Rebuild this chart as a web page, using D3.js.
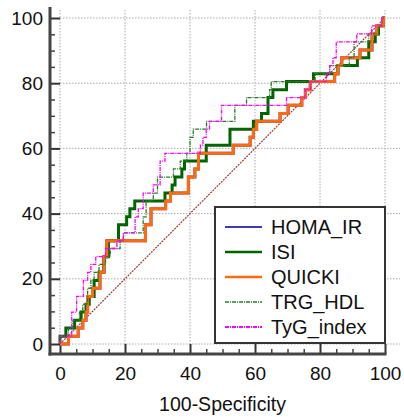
<!DOCTYPE html>
<html>
<head>
<meta charset="utf-8">
<script src="https://cdn.jsdelivr.net/npm/d3@7"></script>
<style>
  body { margin: 0; background: #fff; }
  svg { font-family: "Liberation Sans", Arial, sans-serif; }
</style>
</head>
<body>
<div id="plot"></div>
<script>
// ROC curves, [100-specificity, sensitivity] at every step (jump at x to y)
var seriesNames = ["HOMA_IR", "ISI", "QUICKI", "TRG_HDL", "TyG_index"];

var isi = [[0,0],[0,2.4],[1.8,4.9],[4.5,7.3],[6.5,9.8],[8,12.2],[9,14.6],[10.5,19.5],[12,22],[13.5,26.8],
  [14.9,31.7],[18,36.6],[20.5,39],[21.5,41.5],[23,43.9],[32.3,46.3],[34.5,48.8],
  [35.4,51.2],[37.5,53.7],[38.3,56.1],[45,61],[52.3,65.9],[59.5,68.3],[62,70.7],[64,75.6],[65.5,78],
  [69.7,80.5],[78,82.9],[85.5,85.4],[91.5,87.8],[95,92.7],[97,95.1],[98,97.6],[99.5,100],[100,100]];

var quicki = [[0,0],[2.6,2.4],[5.6,4.9],[7,7.3],[8,9.8],[8.5,14.6],[10,17.1],[12.3,22],[13.5,26.8],
  [14.4,31.7],[26.3,36.6],[28,41.5],[32.5,43.9],[34,46.3],[39.5,51.2],[41.5,53.7],[42.6,58.5],
  [53.3,61],[58.5,63.4],[59.5,65.9],[60.5,68.3],[67.7,70.7],[70.2,73.2],[74.4,75.6],[75.5,78],
  [77,80.5],[84.5,82.9],[85.5,85.4],[86.7,87.8],[92.3,90.2],[96,95.1],[97.5,97.6],[99.5,100],[100,100]];

// HOMA_IR gives the same ranking as QUICKI, so it sits under the orange line
var homaIR = quicki;

var trgHdl = [[0,0],[0,2.4],[2.6,4.9],[4,7.3],[6,9.8],[7,12.2],[8.5,17.1],[9.5,19.5],[10.5,22],
  [12,24.4],[14,26.8],[15.5,29.3],[18.5,31.7],[19.5,34.1],[25.6,39],[26.5,43.9],[28.7,46.3],
  [30,51.2],[34.9,53.7],[37,56.1],[39,58.5],[40,63.4],[41,65.9],[45.1,68.3],[53.8,73.2],
  [57.4,75.6],[64.5,78],[65,80.5],[78.5,82.9],[83,85.4],[89,87.8],[90.5,92.7],[95,95.1],
  [98,97.6],[99,100],[100,100]];

var tygIndex = [[0,0],[0,2.4],[3.6,9.8],[5.1,14.6],[7.2,19.5],[8.5,22],[9.5,24.4],[11,26.8],
  [14,29.3],[17.5,31.7],[19.5,34.1],[23.1,39],[24.1,41.5],[25.6,46.3],[28.7,48.8],[30.8,56.1],
  [32.3,58.5],[43.2,61],[44,63.4],[45,65.9],[46,68.3],[49.7,73.2],[69.7,75.6],[75.4,78],
  [77,80.5],[82,82.9],[83,85.4],[84,87.8],[85,92.7],[91.3,95.1],[95.9,97.6],[99,100],[100,100]];

var tickVals = [0, 20, 40, 60, 80, 100];
var minorVals = [5, 10, 15, 25, 30, 35, 45, 50, 55, 65, 70, 75, 85, 90, 95];

var styles = [
  { data: homaIR,   color: "#3b3bb3", width: 3,   dash: null,      lw: 2 },
  { data: isi,      color: "#006400", width: 3,   dash: null,      lw: 2.5 },
  { data: quicki,   color: "#ff6a10", width: 3,   dash: null,      lw: 2.5 },
  { data: trgHdl,   color: "#2b7a2b", width: 1.3, dash: "4,1,1,1", lw: 1.5 },
  { data: tygIndex, color: "#ff00ff", width: 1.3, dash: "4,1,1,1", lw: 1.8 }
];

var W = 404, H = 417;
var x = d3.scaleLinear().domain([0, 100]).range([60, 385]);
var y = d3.scaleLinear().domain([0, 100]).range([344, 18]);

var svg = d3.select("#plot").append("svg")
  .attr("width", W).attr("height", H);

// grid
svg.append("g").selectAll("line.h").data(tickVals).enter().append("line")
  .attr("x1", x(0)).attr("x2", 400)
  .attr("y1", function(d) { return y(d); }).attr("y2", function(d) { return y(d); })
  .attr("stroke", "#aaa").attr("stroke-width", 1).attr("stroke-dasharray", "1.5,1.5");
svg.append("g").selectAll("line.v").data(tickVals).enter().append("line")
  .attr("y1", 10).attr("y2", y(0))
  .attr("x1", function(d) { return x(d); }).attr("x2", function(d) { return x(d); })
  .attr("stroke", "#aaa").attr("stroke-width", 1).attr("stroke-dasharray", "1.5,1.5");

// axes
var yAxis = d3.axisLeft(y).tickValues(tickVals).tickSize(-10).tickPadding(7);
var xAxis = d3.axisBottom(x).tickValues(tickVals).tickSize(-10).tickPadding(13);

var gy = svg.append("g").attr("transform", "translate(50,0)").call(yAxis);
var gx = svg.append("g").attr("transform", "translate(0,354)").call(xAxis);
[gy, gx].forEach(function(g) {
  g.select(".domain").remove();
  g.selectAll(".tick line").attr("stroke", "#333").attr("stroke-width", 2);
  g.selectAll(".tick text").attr("fill", "#111").style("font-size", "19px");
});

svg.append("g").attr("transform", "translate(50,0)")
  .call(d3.axisLeft(y).tickValues(minorVals).tickSize(-5).tickFormat(""))
  .call(function(g) { g.select(".domain").remove(); })
  .selectAll("line").attr("stroke", "#444").attr("stroke-width", 1.5);
svg.append("g").attr("transform", "translate(0,354)")
  .call(d3.axisBottom(x).tickValues(minorVals).tickSize(-5).tickFormat(""))
  .call(function(g) { g.select(".domain").remove(); })
  .selectAll("line").attr("stroke", "#444").attr("stroke-width", 1.5);

svg.append("line").attr("x1", 50).attr("x2", 50).attr("y1", 7).attr("y2", 355.5)
  .attr("stroke", "#444").attr("stroke-width", 3);
svg.append("line").attr("x1", 48.5).attr("x2", x(100) + 1.5).attr("y1", 354).attr("y2", 354)
  .attr("stroke", "#444").attr("stroke-width", 3);

svg.append("text")
  .attr("x", (x(0) + x(100)) / 2).attr("y", 411)
  .attr("text-anchor", "middle").attr("fill", "#111")
  .style("font-size", "19.5px")
  .text("100-Specificity");

// diagonal reference
svg.append("line")
  .attr("x1", x(0)).attr("y1", y(0)).attr("x2", x(100)).attr("y2", y(100))
  .attr("stroke", "#a03a3a").attr("stroke-width", 1.2).attr("stroke-dasharray", "2,1");

// curves
var line = d3.line()
  .x(function(d) { return x(d[0]); })
  .y(function(d) { return y(d[1]); })
  .curve(d3.curveStepAfter);

styles.forEach(function(s) {
  svg.append("path").datum(s.data)
    .attr("d", line)
    .attr("fill", "none")
    .attr("stroke", s.color)
    .attr("stroke-width", s.width)
    .attr("stroke-dasharray", s.dash)
    .attr("stroke-linejoin", "miter");
});

// legend
var lg = svg.append("g");
lg.append("rect").attr("x", 215).attr("y", 207).attr("width", 170).attr("height", 136)
  .attr("fill", "#fff").attr("stroke", "#333").attr("stroke-width", 2);
var rows = lg.selectAll("g.row").data(styles).enter().append("g")
  .attr("transform", function(d, i) { return "translate(0," + (227 + i * 25) + ")"; });
rows.append("line").attr("x1", 225).attr("x2", 262)
  .attr("stroke", function(d) { return d.color; })
  .attr("stroke-width", function(d) { return d.lw; })
  .attr("stroke-dasharray", function(d) { return d.dash; });
rows.append("text").attr("x", 271).attr("dy", "0.36em")
  .attr("fill", "#111").style("font-size", "20px")
  .text(function(d, i) { return seriesNames[i]; });
</script>
</body>
</html>
